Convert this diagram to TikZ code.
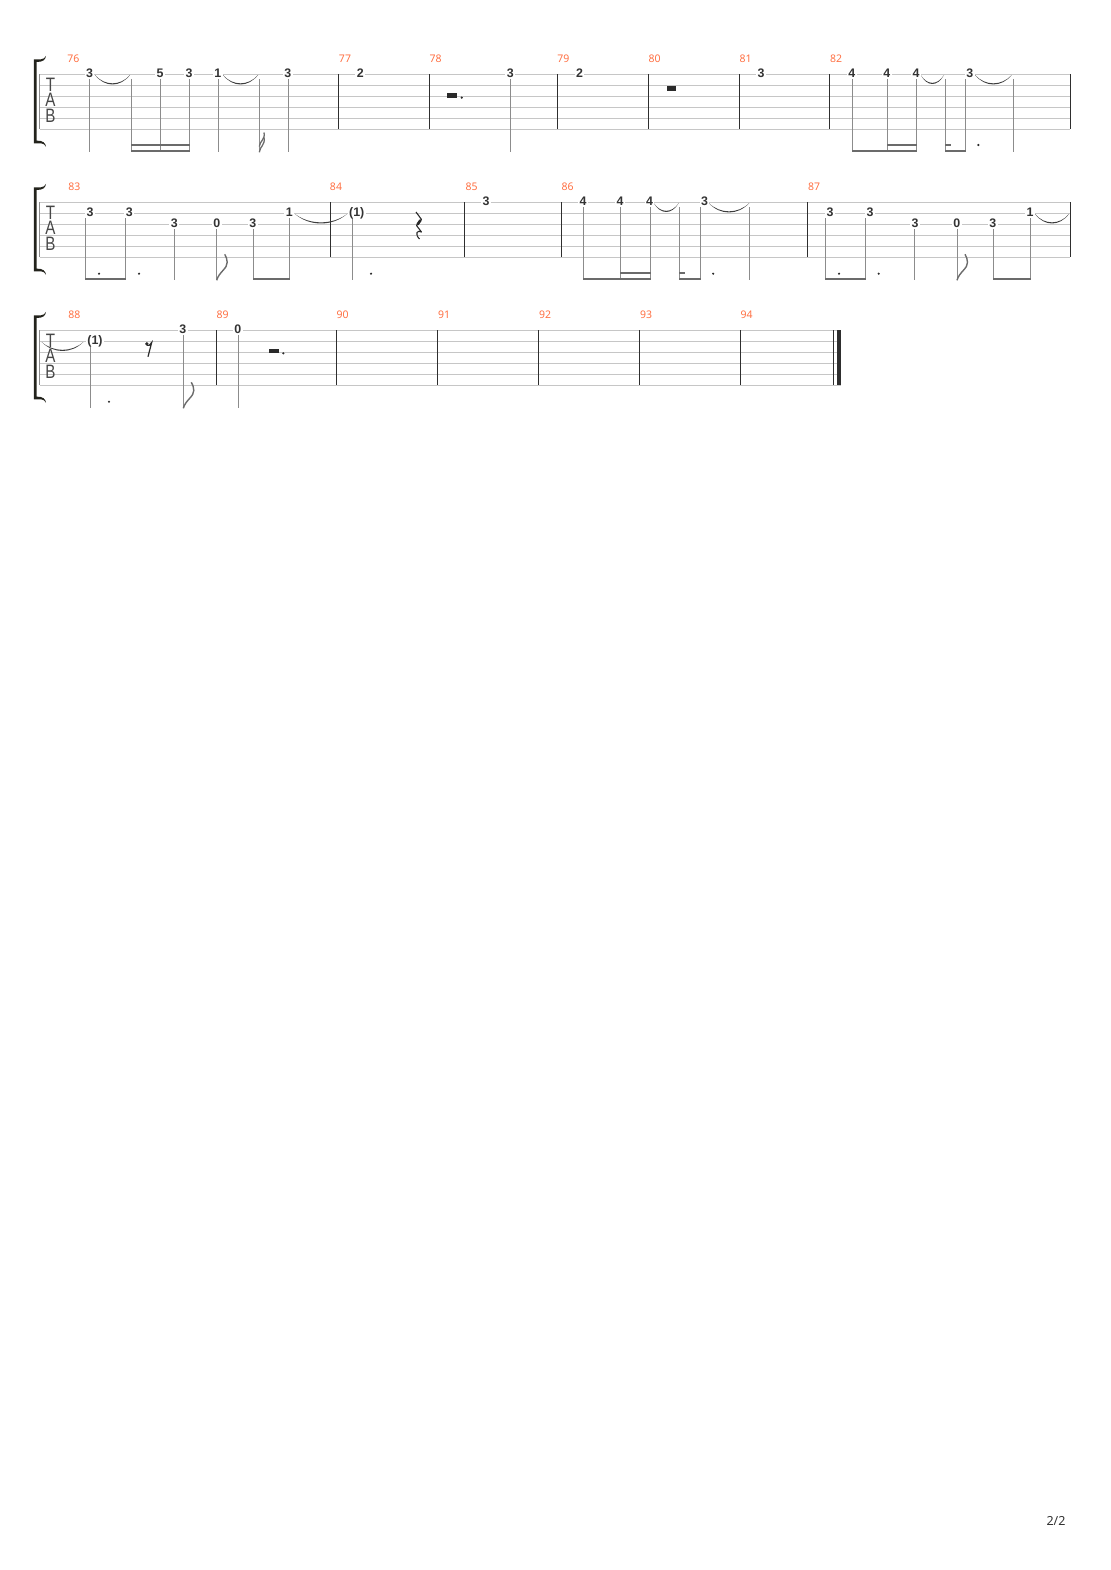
\documentclass[tikz,border=0pt]{standalone}
\usepackage{fontspec}
\setmainfont{Noto Sans}
\setsansfont{Liberation Sans}
\newfontfamily\fretfont{Liberation Sans}
\definecolor{staffc}{HTML}{C6C6C6}
\definecolor{barc}{HTML}{2E2E2E}
\definecolor{stemc}{HTML}{8C8C8C}
\definecolor{beamc}{HTML}{6B6B6B}
\definecolor{numc}{HTML}{333333}
\definecolor{mnumc}{HTML}{FF7043}
\definecolor{tiec}{HTML}{3C3C3C}
\definecolor{brc}{HTML}{23231C}
\definecolor{restc}{HTML}{2A2A2A}
\newcommand\tiearc[4]{%
  \fill[tiec] (#1,#3) .. controls ({#1+0.28*(#2-#1)},{#3+1.33*#4}) and ({#2-0.28*(#2-#1)},{#3+1.33*#4}) .. (#2,#3)
   .. controls ({#2-0.28*(#2-#1)},{#3+1.33*#4-1.5}) and ({#1+0.28*(#2-#1)},{#3+1.33*#4-1.5}) .. cycle;}
\newcommand\eflag[2]{%
  \draw[beamc, line width=1.4pt] (#1,#2) .. controls ({#1+2},{#2-8}) and ({#1+11},{#2-12}) .. ({#1+10.5},{#2-18})
   .. controls ({#1+10.3},{#2-21}) and ({#1+9.5},{#2-24}) .. ({#1+8},{#2-26});}
\begin{document}
\begin{tikzpicture}[x=1pt,y=-1pt,
  staffline/.style={staffc, line width=0.9pt},
  staffstart/.style={stemc, line width=0.9pt},
  barline/.style={barc, line width=1pt},
  stemline/.style={stemc, line width=1pt},
  fret/.style={fill=white, inner xsep=1.4pt, inner ysep=0.5pt, text=numc,
    font=\fretfont\bfseries\fontsize{12.4}{13}\selectfont, text height=8.9pt, text depth=0pt},
  mnum/.style={text=mnumc, font=\fontsize{10.5}{11}\selectfont, inner sep=0pt},
  tabl/.style={text=numc!90!white, font=\sffamily\fontsize{18.5}{19}\selectfont, inner sep=0pt,
    text height=13.3pt, text depth=0pt},
  pnum/.style={text=numc, font=\fontsize{12.5}{13}\selectfont, inner sep=0pt}]
\useasboundingbox (0,0) rectangle (1110,1570);

% ---------- staves, brackets, TAB clefs ----------
\foreach \Y/\xe/\i in {74.3/1070/1,202.3/1070/2,330.3/840.7/3}{
  \foreach \k in {0,...,5}{\draw[staffline] (39.5,{\Y+11*\k}) -- (\xe,{\Y+11*\k});}
  \draw[staffstart] (39.5,\Y) -- (39.5,{\Y+55});
  \fill[brc] (33.8,{\Y-15}) -- (41,{\Y-15}) .. controls (43.5,{\Y-15}) and (45,{\Y-16.5}) .. (46,{\Y-18.5})
     .. controls (45.5,{\Y-14.5}) and (43,{\Y-12.3}) .. (36.6,{\Y-12.3}) -- (36.6,{\Y+66.3})
     .. controls (43,{\Y+66.3}) and (45.5,{\Y+68.5}) .. (46,{\Y+72.5})
     .. controls (45,{\Y+70.5}) and (43.5,{\Y+69}) .. (41,{\Y+69}) -- (33.8,{\Y+69}) -- cycle;
  \node[tabl] (tabT\i) at (50.5,{\Y+10.4}) {\scalebox{0.82}[1.05]{T}};
  \node[tabl] (tabA\i) at (50.5,{\Y+25.8}) {\scalebox{0.82}[1.05]{A}};
  \node[tabl] (tabB\i) at (50.5,{\Y+41.4}) {\scalebox{0.82}[1.05]{B}};
}

% ---------- barlines ----------
\foreach \x in {338.3,429.3,557.3,648.8,739.7,829.3,1070}{\draw[barline] (\x,74.3) -- (\x,129.3);}
\foreach \x in {330.7,464.3,561.7,807.3,1070}{\draw[barline] (\x,202.3) -- (\x,257.3);}
\foreach \x in {216,336,437.3,538.3,639.3,740.3}{\draw[barline] (\x,330.3) -- (\x,385.3);}
\draw[barc, line width=0.9pt] (833.7,330.3) -- (833.7,385.3);
\fill[barc] (837.3,330.3) rectangle (840.9,385.3);

% ---------- measure numbers ----------
\foreach \n/\x/\y in {76/73.3/58.5,77/345/58.5,78/435.7/58.5,79/563.4/58.5,80/654.7/58.5,81/745.5/58.5,82/836/58.5,
  83/74.3/186.3,84/336/186.3,85/471.7/186.3,86/567.5/186.3,87/814/186.3,
  88/74.3/314.3,89/222.7/314.3,90/342.7/314.3,91/444/314.3,92/545/314.3,93/646/314.3,94/746.7/314.3}{
  \node[mnum] (m\n) at (\x,\y) {\n};}

% ---------- stems ----------
\foreach \x in {89.7,131,160,189,218,259.3,288.3,510.7,852,887,916.3,945.3,965,1013.3}{
  \draw[stemline] (\x,78.8) -- (\x,152.3);}
\foreach \x/\t in {85/218.3,125.7/218.3,174.3/229.3,216.7/229.3,253.3/229.3,289.3/218.3,352/218.3,
  583.3/206.8,620.3/206.8,650/206.8,679.5/206.8,700.2/206.8,749.3/206.8,
  825.3/218.3,865/218.3,914.7/229.3,957/229.3,993.3/229.3,1030/218.3}{
  \draw[stemline] (\x,\t) -- (\x,280.3);}
\foreach \x/\t in {90/346.3,183.3/334.8,238.3/334.8}{\draw[stemline] (\x,\t) -- (\x,408.3);}

% ---------- beams ----------
\foreach \a/\b/\t in {130.5/189.5/150.2,130.5/189.5/144.2,851.5/916.8/150.2,886.5/916.8/144.2,944.8/965.5/150.2,944.8/950.7/144.2,
  84.5/126.2/278.2,252.8/289.8/278.2,582.8/650.5/278.2,619.8/650.5/272.2,679/700.7/278.2,679/684.9/272.2,
  824.8/865.5/278.2,992.8/1030.5/278.2}{
  \fill[beamc] (\a,\t) rectangle (\b,{\t+2.2});}

% ---------- flags ----------
\draw[beamc, line width=1.3pt] (259.3,152.3) .. controls (260,146) and (265.5,145) .. (264,137.5);
\draw[beamc, line width=1.3pt] (259.3,146.5) .. controls (260,140.5) and (265.5,139.5) .. (264,132.5);
\eflag{216.7}{280.3}
\eflag{957}{280.3}
\eflag{183.3}{408.3}

% ---------- dots ----------
\foreach \x/\y in {978.3/145,99/273.7,139/273.7,371/273.7,713.2/273.7,839/273.7,878.7/273.7,109/401.7,461.7/97.6,283.3/353.3}{
  \fill[restc] (\x,\y) circle (1.2);}

% ---------- rests ----------
\fill[restc] (447.3,93.5) rectangle (456.7,97.6);
\fill[restc] (269.3,349.3) rectangle (278.7,353.4);
\fill[restc] (666.5,86.3) rectangle (675.5,91);
\draw[restc, line width=1.1pt, line join=round] (416,212) -- (421.5,219.5) -- (416.5,225.5) -- (421.5,232)
   .. controls (417,229.5) and (414.5,234) .. (419.5,239);
\draw[restc, line width=2.6pt, line cap=round] (420.3,220.5) -- (417.6,224.3);
\fill[restc] (146.8,343.8) circle (1.8);
\draw[restc, line width=1.2pt] (146.8,345.3) .. controls (148.5,346.2) and (150.5,345) .. (151.7,342.5) -- (148,356.7);

% ---------- ties ----------
\tiearc{95}{130}{75}{9.5}
\tiearc{223}{258}{75}{9.5}
\tiearc{920.7}{944}{75}{9}
\tiearc{975}{1011.7}{75}{9.5}
\tiearc{295}{347}{214}{9.5}
\tiearc{653.6}{678.8}{203}{9}
\tiearc{708.7}{749.3}{203}{9.5}
\tiearc{1035}{1069}{214}{9.5}
\tiearc{41.7}{83.3}{342}{9}

% ---------- fret numbers ----------
\foreach \nm/\x/\y/\t in {a1/89.5/74.3/3,a2/160/74.3/5,a3/189/74.3/3,a4/217.7/74.3/1,a5/287.7/74.3/3,
  a6/360.3/74.3/2,a7/510.2/74.3/3,a8/579.5/74.3/2,a9/761/74.3/3,a10/851.7/74.3/4,a11/886.7/74.3/4,
  a12/916/74.3/4,a13/969.7/74.3/3,
  b1/90/213.3/3,b2/129.3/213.3/3,b3/174.3/224.3/3,b4/216.7/224.3/0,b5/252.7/224.3/3,b6/289.3/213.3/1,
  b7/356.7/213.3/{(1)},b8/486/202.3/3,b9/583/202.3/4,b10/620/202.3/4,b11/649.5/202.3/4,b12/704.6/202.3/3,
  b13/830/213.3/3,b14/870/213.3/3,b15/915/224.3/3,b16/956.7/224.3/0,b17/992.7/224.3/3,b18/1030/213.3/1,
  c1/95/341.3/{(1)},c2/182.7/330.3/3,c3/237.7/330.3/0}{
  \node[fret] (\nm) at (\x,{\y-0.8}) {\t};}

% ---------- page number ----------
\node[pnum] (pg) at (1056,1520.7) {2/2};
\end{tikzpicture}
\end{document}
